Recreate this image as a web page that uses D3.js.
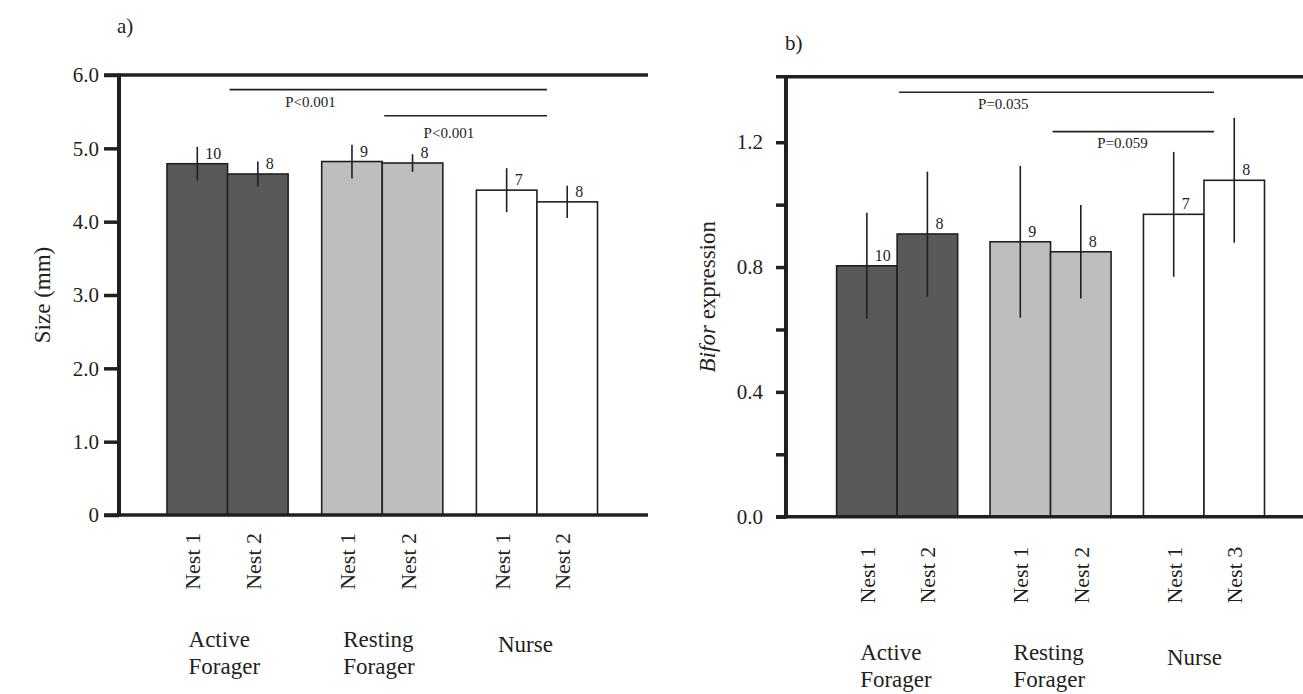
<!DOCTYPE html>
<html>
<head>
<meta charset="utf-8">
<script src="https://d3js.org/d3.v7.min.js"></script>
<style>
body { margin: 0; background: #fff; }
text { fill: #231f20; }
</style>
</head>
<body>
<svg id="chart" width="1303" height="694"></svg>
<script>
// shared categories
var groups = ["Active Forager", "Resting Forager", "Nurse"];
var groupLines = [["Active", "Forager"], ["Resting", "Forager"], ["Nurse"]];
var barGroup = [0, 0, 1, 1, 2, 2];
var barSlot = [0, 1, 0, 1, 0, 1];
var groupFill = ["#58595b", "#bcbec0", "#ffffff"];

// panel a: body size
var nestA = ["Nest 1", "Nest 2", "Nest 1", "Nest 2", "Nest 1", "Nest 2"];
var sizeMean = [4.79, 4.65, 4.82, 4.80, 4.43, 4.27];
var sizeErr = [0.23, 0.17, 0.23, 0.12, 0.30, 0.22];
var sizeN = [10, 8, 9, 8, 7, 8];
var sizeTicks = [0, 1, 2, 3, 4, 5, 6];
var sizeTickLabels = ["0", "1.0", "2.0", "3.0", "4.0", "5.0", "6.0"];
var sizeSig = [
  {from: 1, to: 5, y: 5.80, label: "P<0.001", labelBar: 1, labelOff: 1.37, labelY: 5.56},
  {from: 3, to: 5, y: 5.445, label: "P<0.001", labelBar: 3, labelOff: 1.10, labelY: 5.14}
];

// panel b: Bifor expression
var nestB = ["Nest 1", "Nest 2", "Nest 1", "Nest 2", "Nest 1", "Nest 3"];
var biforMean = [0.804, 0.906, 0.881, 0.849, 0.969, 1.078];
var biforErr = [0.170, 0.200, 0.243, 0.150, 0.200, 0.200];
var biforN = [10, 8, 9, 8, 7, 8];
var biforTicks = [0, 0.2, 0.4, 0.6, 0.8, 1.0, 1.2];
var biforTickLabels = ["0.0", "", "0.4", "", "0.8", "", "1.2"];
var biforSig = [
  {from: 1, to: 5, y: 1.36, label: "P=0.035", labelBar: 2, labelOff: 0.22, labelY: 1.305},
  {from: 3, to: 5, y: 1.234, label: "P=0.059", labelBar: 3, labelOff: 1.19, labelY: 1.18}
];

var ink = "#231f20";
var serif = "Liberation Serif";
var svg = d3.select("#chart").attr("font-family", serif);

function drawPanel(cfg) {
  var g = svg.append("g").attr("font-family", serif);

  var y = d3.scaleLinear().domain(cfg.yDomain).range([cfg.bottom, cfg.top]);
  var x0 = d3.scaleBand().domain(groups).range([cfg.barsLeft, cfg.barsRight]).paddingInner(cfg.gap);
  var x1 = d3.scaleBand().domain([0, 1]).range([0, x0.bandwidth()]);
  var bw = x1.bandwidth();
  function barLeft(i) { return x0(groups[barGroup[i]]) + x1(barSlot[i]); }
  function barMid(i) { return barLeft(i) + bw / 2; }

  // bars
  g.selectAll(".bar")
    .data(cfg.mean)
    .enter().append("rect")
    .attr("class", "bar")
    .attr("x", function(d, i) { return barLeft(i); })
    .attr("y", function(d) { return y(d); })
    .attr("width", bw)
    .attr("height", function(d) { return y(0) - y(d); })
    .attr("fill", function(d, i) { return groupFill[barGroup[i]]; })
    .attr("stroke", ink)
    .attr("stroke-width", 1.6);

  // error bars
  g.selectAll(".err")
    .data(cfg.mean)
    .enter().append("line")
    .attr("x1", function(d, i) { return barMid(i); })
    .attr("x2", function(d, i) { return barMid(i); })
    .attr("y1", function(d, i) { return y(d - cfg.err[i]); })
    .attr("y2", function(d, i) { return y(d + cfg.err[i]); })
    .attr("stroke", ink)
    .attr("stroke-width", 1.6);

  // sample sizes
  g.selectAll(".nlab")
    .data(cfg.n)
    .enter().append("text")
    .attr("x", function(d, i) { return barMid(i) + 8; })
    .attr("y", function(d, i) { return y(cfg.mean[i]) - 5; })
    .attr("font-size", 16)
    .text(function(d) { return d; });

  // y axis
  var ax = g.append("g")
    .attr("transform", "translate(" + cfg.left + ",0)")
    .call(d3.axisLeft(y)
      .tickValues(cfg.ticks)
      .tickFormat(function(d, i) { return cfg.tickLabels[i]; })
      .tickSize(cfg.tickLen)
      .tickSizeOuter(0)
      .tickPadding(cfg.tickPad));
  ax.attr("font-family", serif).attr("font-size", null);
  ax.select(".domain").attr("stroke", ink).attr("stroke-width", 4)
    .attr("d", "M0," + (cfg.frameTop - 1.5) + "V" + (cfg.bottom + 1.5));
  ax.selectAll(".tick line").attr("stroke", ink).attr("stroke-width", 3.5);
  ax.selectAll(".tick text").attr("font-size", 21).attr("fill", ink);

  // frame: top and bottom lines
  g.append("line")
    .attr("x1", cfg.left - cfg.tickLen).attr("x2", cfg.right)
    .attr("y1", cfg.frameTop).attr("y2", cfg.frameTop)
    .attr("stroke", ink).attr("stroke-width", 3.5);
  g.append("line")
    .attr("x1", cfg.left - cfg.tickLen).attr("x2", cfg.right)
    .attr("y1", y(0)).attr("y2", y(0))
    .attr("stroke", ink).attr("stroke-width", 3.5);

  // significance lines
  cfg.sig.forEach(function(s) {
    g.append("line")
      .attr("x1", barLeft(s.from) + 2).attr("x2", barLeft(s.to) + 10)
      .attr("y1", y(s.y)).attr("y2", y(s.y))
      .attr("stroke", ink).attr("stroke-width", 1.6);
    g.append("text")
      .attr("x", barLeft(s.labelBar) + s.labelOff * bw)
      .attr("y", y(s.labelY))
      .attr("text-anchor", "middle")
      .attr("font-size", 15)
      .text(s.label);
  });

  // nest labels (rotated)
  g.selectAll(".nest")
    .data(cfg.nests)
    .enter().append("text")
    .attr("transform", function(d, i) {
      return "translate(" + (barMid(i) + cfg.nestDx) + "," + (y(0) + cfg.nestDy) + ") rotate(-90)";
    })
    .attr("text-anchor", "end")
    .attr("font-size", 22)
    .text(function(d) { return d; });

  // group labels
  groupLines.forEach(function(lines, gi) {
    var gx = x0(groups[gi]) + x0.bandwidth() / 2 - cfg.groupDx;
    var t = g.append("text")
      .attr("x", gx)
      .attr("y", cfg.groupY + (lines.length === 1 ? 5 : 0))
      .attr("font-size", 23);
    lines.forEach(function(l, li) {
      t.append("tspan")
        .attr("x", gx)
        .attr("dy", li === 0 ? 0 : 27)
        .text(l);
    });
  });

  // y title
  var yt = g.append("text")
    .attr("transform", "translate(" + cfg.titleX + "," + (cfg.top + cfg.bottom) / 2 + ") rotate(-90)")
    .attr("text-anchor", "middle")
    .attr("font-size", 23);
  cfg.title.forEach(function(p) {
    yt.append("tspan").attr("font-style", p.italic ? "italic" : null).text(p.text);
  });

  // panel letter
  g.append("text")
    .attr("x", cfg.letterX).attr("y", cfg.letterY)
    .attr("font-size", 21)
    .text(cfg.letter);
}

drawPanel({
  mean: sizeMean, err: sizeErr, n: sizeN, nests: nestA,
  ticks: sizeTicks, tickLabels: sizeTickLabels, sig: sizeSig,
  yDomain: [0, 6], top: 75, bottom: 515, frameTop: 75,
  left: 119, right: 648, barsLeft: 167, barsRight: 597.5, gap: 0.217,
  tickLen: 15, tickPad: 5,
  nestDx: 3, nestDy: 18, groupDx: 39, groupY: 647,
  title: [{text: "Size (mm)"}], titleX: 50,
  letter: "a)", letterX: 117, letterY: 33
});

drawPanel({
  mean: biforMean, err: biforErr, n: biforN, nests: nestB,
  ticks: biforTicks, tickLabels: biforTickLabels, sig: biforSig,
  yDomain: [0, 1.41], top: 76.7, bottom: 516.7, frameTop: 76.7,
  left: 786, right: 1303, barsLeft: 836.6, barsRight: 1264.5, gap: 0.211,
  tickLen: 10, tickPad: 13,
  nestDx: 8, nestDy: 30, groupDx: 37, groupY: 660,
  title: [{text: "Bifor", italic: true}, {text: " expression"}], titleX: 715,
  letter: "b)", letterX: 785, letterY: 50
});
</script>
</body>
</html>
